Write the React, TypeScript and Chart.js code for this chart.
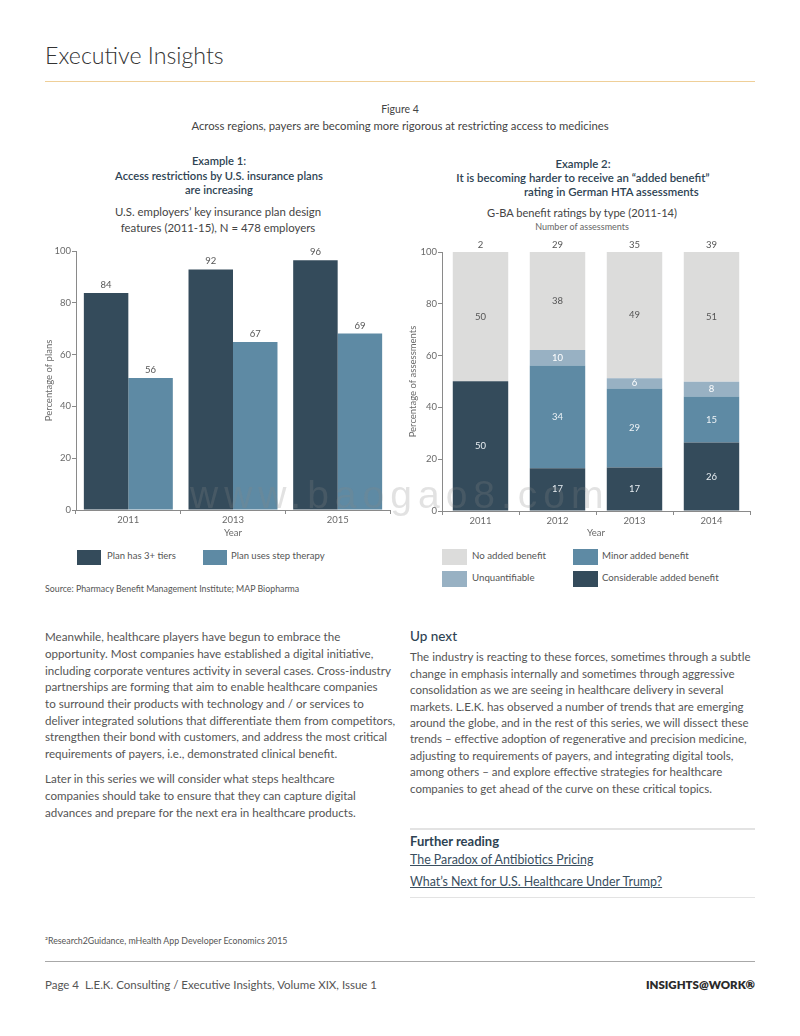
import React, { useEffect, useRef } from "react";
import { Chart, registerables } from "chart.js";

Chart.register(...registerables);

// ---------- Chart 1 data ----------
const years1 = ["2011", "2013", "2015"];
const tiersValues = [83.8, 92.9, 96.4];
const stepValues = [51.0, 64.9, 68.1];
const tiersLabels = [84, 92, 96];
const stepLabels = [56, 67, 69];
const series1Names = ["Plan has 3+ tiers", "Plan uses step therapy"];

// ---------- Chart 2 data ----------
const years2 = ["2011", "2012", "2013", "2014"];
const assessmentCounts = [2, 29, 35, 39];
const considerableValues = [50.1, 16.5, 16.8, 26.4];
const minorValues = [0, 39.7, 30.5, 17.8];
const unquantValues = [0, 6.0, 4.0, 5.7];
const noAddedValues = [49.9, 37.8, 48.7, 50.1];
const considerableLabels = [50, 17, 17, 26];
const minorLabels = [null, 34, 29, 15];
const unquantLabels = [null, 10, 6, 8];
const noAddedLabels = [50, 38, 49, 51];
const series2Names = ["Considerable added benefit", "Minor added benefit", "Unquantifiable", "No added benefit"];

const yMin = 0;
const yMax = 100;
const yStep = 20;

const DARK = "#344b5b";
const BLUE = "#5e8aa4";
const LIGHTBLUE = "#98b1c3";
const GRAY = "#dcdcdb";
const AXIS = "#8a8a8a";
const TICKTEXT = "#6a6a6a";
const FONT = "Lato, 'Open Sans', sans-serif";

const leftPara1 = [
  "Meanwhile, healthcare players have begun to embrace the",
  "opportunity. Most companies have established a digital initiative,",
  "including corporate ventures activity in several cases. Cross-industry",
  "partnerships are forming that aim to enable healthcare companies",
  "to surround their products with technology and / or services to",
  "deliver integrated solutions that differentiate them from competitors,",
  "strengthen their bond with customers, and address the most critical",
  "requirements of payers, i.e., demonstrated clinical benefit.",
];
const leftPara2 = [
  "Later in this series we will consider what steps healthcare",
  "companies should take to ensure that they can capture digital",
  "advances and prepare for the next era in healthcare products.",
];
const rightPara = [
  "The industry is reacting to these forces, sometimes through a subtle",
  "change in emphasis internally and sometimes through aggressive",
  "consolidation as we are seeing in healthcare delivery in several",
  "markets. L.E.K. has observed a number of trends that are emerging",
  "around the globe, and in the rest of this series, we will dissect these",
  "trends – effective adoption of regenerative and precision medicine,",
  "adjusting to requirements of payers, and integrating digital tools,",
  "among others – and explore effective strategies for healthcare",
  "companies to get ahead of the curve on these critical topics.",
];

const labelPlugin = {
  id: "valueLabels",
  afterDatasetsDraw(chart: any) {
    const ctx = chart.ctx;
    ctx.save();
    ctx.textAlign = "center";
    ctx.textBaseline = "middle";
    chart.data.datasets.forEach((ds: any, di: number) => {
      const meta = chart.getDatasetMeta(di);
      if (!ds.printedLabels) return;
      meta.data.forEach((el: any, i: number) => {
        const lbl = ds.printedLabels[i];
        if (lbl == null) return;
        ctx.font = `9.5px ${FONT}`;
        ctx.fillStyle = ds.labelColor || "#555";
        const y = ds.labelMode === "center" ? (el.y + el.base) / 2 : el.y - 8;
        ctx.fillText(String(lbl), el.x, y);
      });
    });
    const totals = chart.options.plugins.totals;
    if (totals && totals.values) {
      const meta = chart.getDatasetMeta(0);
      const yTop = chart.scales.y.getPixelForValue(yMax) - 7;
      ctx.fillStyle = "#555";
      ctx.font = `9.5px ${FONT}`;
      meta.data.forEach((el: any, i: number) => {
        ctx.fillText(String(totals.values[i]), el.x, yTop);
      });
    }
    ctx.restore();
  },
};

function makeScales(stacked: boolean, yWidth: number, xHeight: number, yTitle: string, yTitlePad: number) {
  return {
    x: {
      stacked,
      grid: { display: true, drawOnChartArea: false, drawTicks: true, tickLength: 4, color: AXIS, offset: true },
      border: { display: true, color: AXIS, width: 1 },
      ticks: { color: TICKTEXT, font: { family: FONT, size: 9.5 }, padding: 0 },
      title: { display: true, text: "Year", color: TICKTEXT, font: { family: FONT, size: 9.5 }, padding: { top: 0, bottom: 6.5 } },
      afterFit: (s: any) => { s.height = xHeight; },
    },
    y: {
      stacked,
      min: yMin,
      max: yMax,
      grid: { display: true, drawOnChartArea: false, drawTicks: true, tickLength: 4, color: AXIS },
      border: { display: true, color: AXIS, width: 1 },
      ticks: { stepSize: yStep, color: TICKTEXT, font: { family: FONT, size: 9.5 }, padding: 1 },
      title: { display: true, text: yTitle, color: TICKTEXT, font: { family: FONT, size: 9.5 }, padding: { top: yTitlePad, bottom: 0 } },
      afterFit: (s: any) => { s.width = yWidth; },
    },
  };
}

function ChartOne() {
  const ref = useRef<HTMLCanvasElement>(null);
  useEffect(() => {
    const chart = new Chart(ref.current as HTMLCanvasElement, {
      type: "bar",
      data: {
        labels: years1,
        datasets: [
          { label: series1Names[0], data: tiersValues, backgroundColor: DARK, printedLabels: tiersLabels, labelColor: "#555", labelMode: "top", categoryPercentage: 0.85, barPercentage: 1 } as any,
          { label: series1Names[1], data: stepValues, backgroundColor: BLUE, printedLabels: stepLabels, labelColor: "#555", labelMode: "top", categoryPercentage: 0.85, barPercentage: 1 } as any,
        ],
      },
      options: {
        responsive: false,
        animation: false,
        layout: { padding: { left: 0, top: 16, right: 10, bottom: 0 } },
        plugins: { legend: { display: false }, tooltip: { enabled: false } },
        scales: makeScales(false, 36, 35, "Percentage of plans", 3.5) as any,
      },
      plugins: [labelPlugin],
    });
    return () => chart.destroy();
  }, []);
  return <canvas ref={ref} width={360} height={310} style={{ position: "absolute", left: 40, top: 235, width: 360, height: 310 }} />;
}

function ChartTwo() {
  const ref = useRef<HTMLCanvasElement>(null);
  useEffect(() => {
    const common = { categoryPercentage: 0.72, barPercentage: 1, labelMode: "center" };
    const chart = new Chart(ref.current as HTMLCanvasElement, {
      type: "bar",
      data: {
        labels: years2,
        datasets: [
          { label: series2Names[0], data: considerableValues, backgroundColor: DARK, printedLabels: considerableLabels, labelColor: "#e8eef2", ...common } as any,
          { label: series2Names[1], data: minorValues, backgroundColor: BLUE, printedLabels: minorLabels, labelColor: "#eef3f6", ...common } as any,
          { label: series2Names[2], data: unquantValues, backgroundColor: LIGHTBLUE, printedLabels: unquantLabels, labelColor: "#ffffff", ...common } as any,
          { label: series2Names[3], data: noAddedValues, backgroundColor: GRAY, printedLabels: noAddedLabels, labelColor: "#555", ...common } as any,
        ],
      },
      options: {
        responsive: false,
        animation: false,
        layout: { padding: { left: 0, top: 17, right: 10, bottom: 0 } },
        plugins: { legend: { display: false }, tooltip: { enabled: false }, totals: { values: assessmentCounts } } as any,
        scales: makeScales(true, 42, 34, "Percentage of assessments", 7.5) as any,
      },
      plugins: [labelPlugin],
    });
    return () => chart.destroy();
  }, []);
  return <canvas ref={ref} width={360} height={310} style={{ position: "absolute", left: 400, top: 235, width: 360, height: 310 }} />;
}

type LineProps = { x: number; cy: number; size: number; text: string; color?: string; weight?: number | string; center?: boolean; right?: boolean; underline?: boolean; family?: string; spacing?: number };
function Line({ x, cy, size, text, color = "#555", weight = 400, center, right, underline, family, spacing }: LineProps) {
  const style: React.CSSProperties = {
    position: "absolute",
    top: cy - 0.75 * size,
    fontSize: size,
    lineHeight: `${size * 1.3}px`,
    color,
    fontWeight: weight as any,
    whiteSpace: "pre",
    fontFamily: family || FONT,
    textDecoration: underline ? "underline" : "none",
    letterSpacing: spacing,
  };
  if (center) { style.left = x; style.transform = "translateX(-50%)"; }
  else if (right) { style.right = 800 - x; }
  else style.left = x;
  return <div style={style}>{text}</div>;
}

function Swatch({ x, y, w, h, color }: { x: number; y: number; w: number; h: number; color: string }) {
  return <div style={{ position: "absolute", left: x, top: y, width: w, height: h, background: color }} />;
}

export default function App() {
  const HEAD = "#2e4353";
  return (
    <div style={{ position: "absolute", left: 0, top: 0, width: 800, height: 1036, background: "#fff", fontFamily: FONT, overflow: "hidden" }}>
      <Line x={45} cy={57} size={23.2} text="Executive Insights" color="#333" weight={300} />
      <div style={{ position: "absolute", left: 45, top: 80.5, width: 710, height: 1.5, background: "#efcf98" }} />

      <Line x={400} cy={111} size={10.5} text="Figure 4" color="#444" center />
      <Line x={400} cy={127} size={11.3} text="Across regions, payers are becoming more rigorous at restricting access to medicines" color="#444" center />

      <Line x={219} cy={162} size={11.2} text="Example 1:" color={HEAD} weight={600} center />
      <Line x={219} cy={177} size={11.2} text="Access restrictions by U.S. insurance plans" color={HEAD} weight={600} center />
      <Line x={219} cy={191} size={11.2} text="are increasing" color={HEAD} weight={600} center />
      <Line x={218} cy={214} size={11.4} text="U.S. employers’ key insurance plan design" color="#444" center />
      <Line x={218} cy={230} size={11.4} text="features (2011-15), N = 478 employers" color="#444" center />

      <Line x={583} cy={166} size={11.4} text="Example 2:" color={HEAD} weight={600} center />
      <Line x={583} cy={180} size={11.4} text="It is becoming harder to receive an “added benefit”" color={HEAD} weight={600} center />
      <Line x={524} cy={194} size={11.4} text="rating in German HTA assessments" color={HEAD} weight={600} />
      <Line x={582} cy={214} size={11.1} text="G-BA benefit ratings by type (2011-14)" color="#444" center />
      <Line x={582} cy={228} size={9} text="Number of assessments" color="#666" center />

      <ChartOne />
      <ChartTwo />

      {/* legend chart 1 */}
      <Swatch x={77} y={550} w={24} h={15} color={DARK} />
      <Line x={107} cy={557} size={9.5} text={series1Names[0]} color="#555" />
      <Swatch x={203} y={550} w={24} h={15} color={BLUE} />
      <Line x={231} cy={557} size={9.5} text={series1Names[1]} color="#555" />

      {/* legend chart 2 */}
      <Swatch x={442} y={549} w={25} h={16} color={GRAY} />
      <Line x={472} cy={556} size={9.7} text={series2Names[3]} color="#555" />
      <Swatch x={573} y={549} w={25} h={16} color={BLUE} />
      <Line x={602} cy={556} size={9.7} text={series2Names[1]} color="#555" />
      <Swatch x={442} y={571} w={25} h={16} color={LIGHTBLUE} />
      <Line x={472} cy={578} size={9.7} text={series2Names[2]} color="#555" />
      <Swatch x={573} y={571} w={25} h={16} color={DARK} />
      <Line x={602} cy={578} size={9.7} text={series2Names[0]} color="#555" />

      <Line x={45} cy={590} size={8.8} text="Source: Pharmacy Benefit Management Institute; MAP Biopharma" color="#555" />

      {leftPara1.map((t, i) => (
        <Line key={"a" + i} x={45} cy={638 + i * 16.67} size={11.6} text={t} color="#555" />
      ))}
      {leftPara2.map((t, i) => (
        <Line key={"b" + i} x={45} cy={780 + i * 16.67} size={11.6} text={t} color="#555" />
      ))}

      <Line x={410} cy={638} size={13.5} text="Up next" color={HEAD} weight={500} />
      {rightPara.map((t, i) => (
        <Line key={"c" + i} x={410} cy={659 + i * 16.4} size={11.5} text={t} color="#555" />
      ))}
      <div style={{ position: "absolute", left: 410, top: 828, width: 345, height: 1.5, background: "#e3e3e3" }} />
      <Line x={410} cy={843} size={13} text="Further reading" color={HEAD} weight={700} />
      <Line x={410} cy={861} size={12.4} text="The Paradox of Antibiotics Pricing" color="#3a4f5f" underline />
      <Line x={410} cy={883} size={12.4} text="What’s Next for U.S. Healthcare Under Trump?" color="#3a4f5f" underline />
      <div style={{ position: "absolute", left: 410, top: 896.5, width: 345, height: 1.5, background: "#e3e3e3" }} />

      <Line x={45} cy={942} size={8.8} text="²Research2Guidance, mHealth App Developer Economics 2015" color="#555" />
      <div style={{ position: "absolute", left: 45, top: 961, width: 710, height: 1, background: "#a8a8a8" }} />
      <Line x={45} cy={987} size={11.5} text="Page 4  L.E.K. Consulting / Executive Insights, Volume XIX, Issue 1" color="#555" />
      <Line x={755} cy={987} size={11.5} text="INSIGHTS@WORK®" color="#2b2b2b" weight={800} right />

      {/* watermark */}
      <div style={{ position: "absolute", left: 190, top: 472, fontSize: 39, lineHeight: "46px", fontFamily: "'Liberation Sans', Arial, sans-serif", letterSpacing: 6, color: "rgba(135,135,135,0.24)", whiteSpace: "nowrap", pointerEvents: "none", zIndex: 5 }}>
        www.baogao8.com
      </div>
    </div>
  );
}
